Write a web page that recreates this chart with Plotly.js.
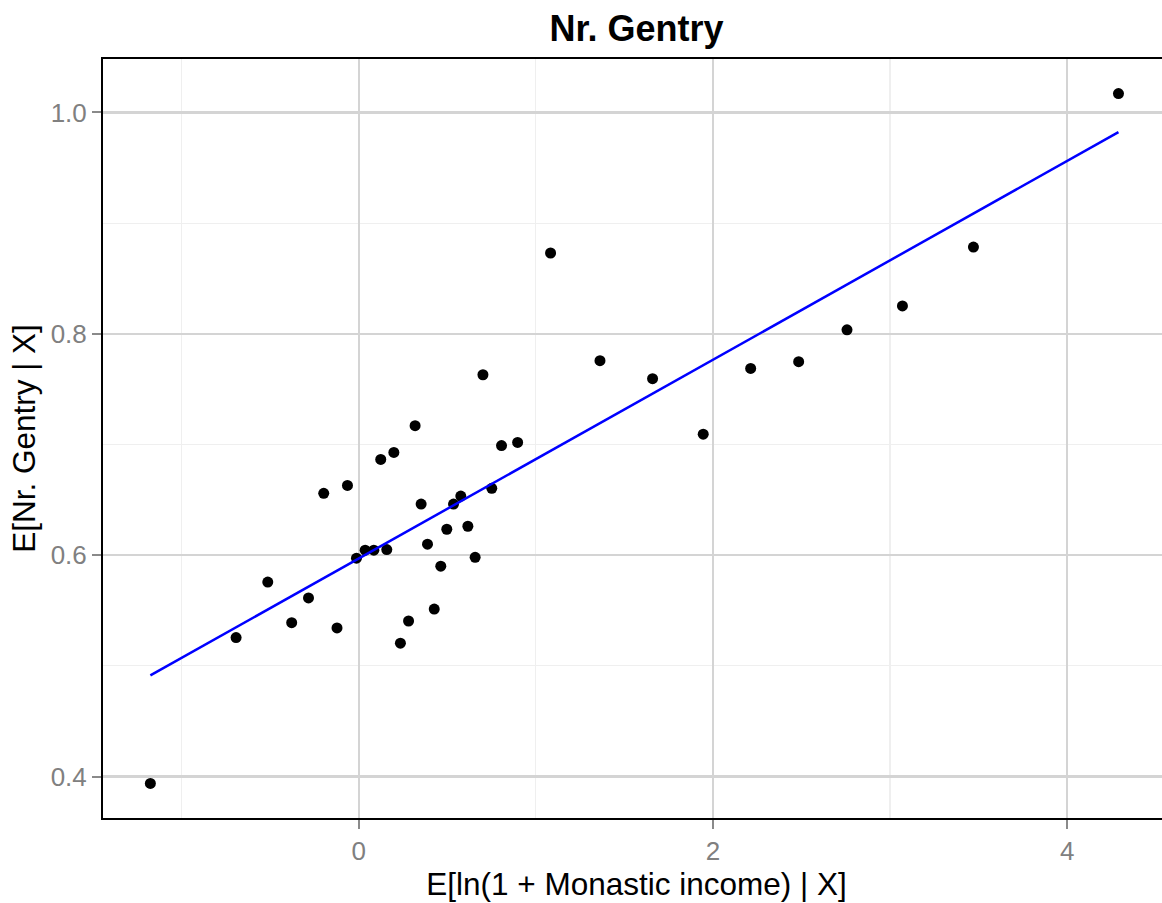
<!DOCTYPE html>
<html>
<head>
<meta charset="utf-8">
<script src="https://cdn.plot.ly/plotly-3.0.1.min.js"></script>
<style>
  html, body { margin: 0; padding: 0; background: #ffffff; overflow: hidden; }
  #chart { width: 1170px; height: 903px; }
</style>
</head>
<body>
<div id="chart"></div>
<script>
// Conditional expectations: monastic income vs. number of gentry
const incomeX = [
  -1.177, -0.693, -0.514, -0.379, -0.284, -0.123, -0.198, -0.064, 0.124, 0.198,
  -0.013, 0.036, 0.085, 0.158, 0.235, 0.701, 0.318, 0.806, 0.897, 0.352,
  0.535, 0.576, 0.751, 0.497, 0.616, 0.388, 0.463, 0.657, 0.426, 0.281,
  1.083, 1.362, 1.659, 1.945, 2.213, 2.484, 2.757, 3.070, 3.471, 4.290
];
const gentryY = [
  0.3937, 0.5255, 0.5757, 0.5390, 0.5613, 0.5342, 0.6559, 0.6630, 0.6865, 0.6928,
  0.5973, 0.6045, 0.6045, 0.6050, 0.5205, 0.7630, 0.7170, 0.6990, 0.7018, 0.6462,
  0.6462, 0.6534, 0.6604, 0.6234, 0.6261, 0.6099, 0.5900, 0.5980, 0.5513, 0.5405,
  0.8730, 0.7757, 0.7595, 0.7093, 0.7687, 0.7748, 0.8036, 0.8252, 0.8784, 1.0171
];

// Linear fit, drawn across the observed range
const fitX = [-1.177, 4.290];
const fitY = [0.4913, 0.9822];

const yTicks = [0.4, 0.6, 0.8, 1.0];
const xTicks = [0, 2, 4];

const FONT = 'Liberation Sans, Arial, Helvetica, sans-serif';

const traces = [
  {
    type: 'scatter', mode: 'markers',
    x: incomeX, y: gentryY,
    marker: { color: '#000000', size: 11, line: { width: 0 } },
    hoverinfo: 'x+y', showlegend: false
  },
  {
    type: 'scatter', mode: 'lines',
    x: fitX, y: fitY,
    line: { color: '#0000FF', width: 2.5 },
    hoverinfo: 'skip', showlegend: false
  }
];

const layout = {
  width: 1170, height: 903,
  margin: { l: 103, r: 0, t: 59, b: 85 },
  paper_bgcolor: '#ffffff', plot_bgcolor: '#ffffff',
  font: { family: FONT, color: '#000000' },
  title: {
    text: '<b>Nr. Gentry</b>',
    font: { family: FONT, size: 36, color: '#000000' },
    x: 0.5, xref: 'paper', xanchor: 'center',
    y: 1 - 28 / 903, yref: 'container', yanchor: 'middle'
  },
  xaxis: {
    range: [-1.4445, 4.581],
    tickvals: xTicks, ticktext: xTicks.map(String),
    showgrid: true, gridcolor: '#D4D4D4', gridwidth: 2.4,
    minor: { dtick: 1, tick0: 1, showgrid: true, gridcolor: '#EFEFEF', gridwidth: 1.2 },
    zeroline: false,
    showline: true, mirror: true, linecolor: '#000000', linewidth: 2,
    ticks: 'outside', ticklen: 9, tickwidth: 2, tickcolor: '#8A8A8A',
    tickfont: { family: FONT, size: 26, color: '#808080' },
    title: { text: 'E[ln(1 + Monastic income) | X]', font: { family: FONT, size: 31.5, color: '#000000' }, standoff: 4 }
  },
  yaxis: {
    range: [0.3625, 1.0483],
    tickvals: yTicks, tickformat: '.1f',
    showgrid: true, gridcolor: '#D4D4D4', gridwidth: 2.4,
    minor: { dtick: 0.2, tick0: 0.5, showgrid: true, gridcolor: '#EFEFEF', gridwidth: 1.2 },
    zeroline: false,
    showline: true, mirror: true, linecolor: '#000000', linewidth: 2,
    ticks: 'outside', ticklen: 9, tickwidth: 2, tickcolor: '#8A8A8A',
    tickfont: { family: FONT, size: 26, color: '#808080' },
    title: { text: 'E[Nr. Gentry | X]', font: { family: FONT, size: 31.5, color: '#000000' }, standoff: 6 }
  }
};

Plotly.newPlot('chart', traces, layout, { displayModeBar: false, staticPlot: true });
</script>
</body>
</html>
